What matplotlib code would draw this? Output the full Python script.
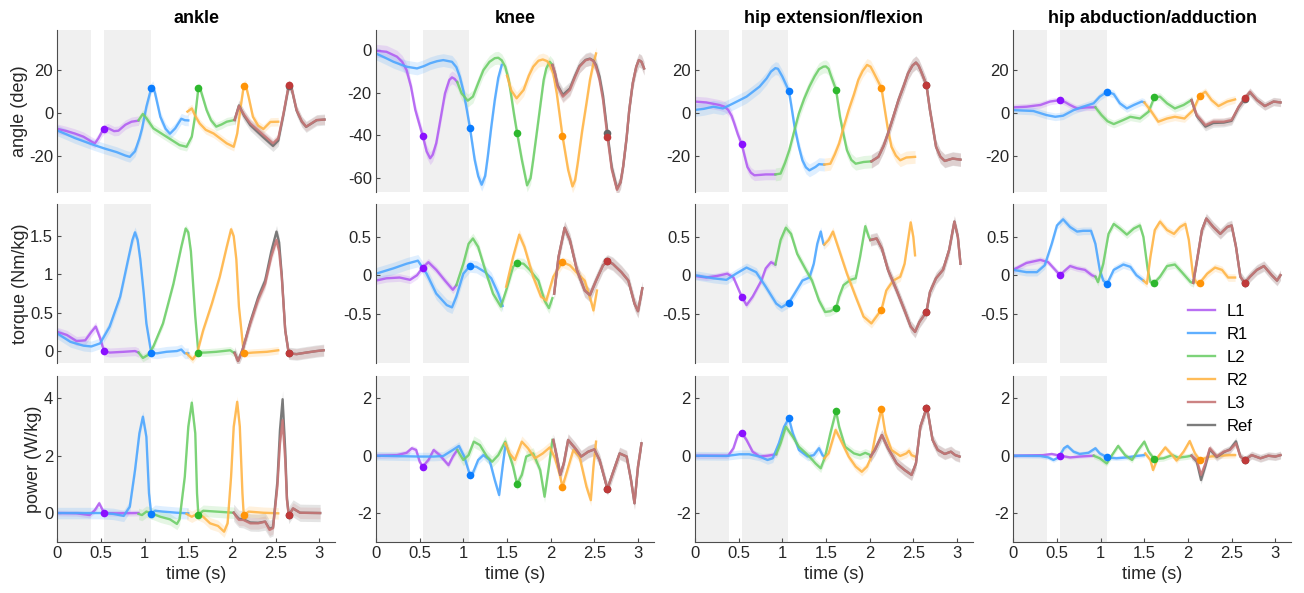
import numpy as np
import matplotlib
matplotlib.use('Agg')
import matplotlib.pyplot as plt

# ---- joint angles (deg): (time s, value) samples per stride segment
ankle_angle_L1 = [(0.0, -7.5), (0.1, -8.5), (0.2, -9.7), (0.3, -11.2), (0.38, -13.2), (0.43, -14.3), (0.47, -12.0),
                  (0.51, -9.0), (0.535, -7.8), (0.58, -7.2), (0.65, -8.6), (0.7, -8.4), (0.78, -5.6), (0.85, -4.2),
                  (0.93, -3.7)]
ankle_angle_R1 = [(0.0, -8.3), (0.1, -10.0), (0.2, -11.8), (0.3, -13.3), (0.43, -15.2), (0.54, -16.7), (0.68, -18.4),
                  (0.78, -20.0), (0.83, -20.6), (0.89, -18.0), (0.94, -12.0), (0.97, -7.5), (1.02, 2.8),
                  (1.075, 11.4), (1.095, 12.4), (1.12, 9.0), (1.18, -1.9), (1.24, -7.5), (1.29, -9.8), (1.35, -7.3),
                  (1.42, -2.8), (1.46, -3.5), (1.5, -3.6)]
ankle_angle_L2 = [(0.93, -3.5), (0.98, -0.6), (1.02, -2.5), (1.1, -7.3), (1.25, -11.2), (1.4, -15.1), (1.48, -15.9),
                  (1.54, -11.2), (1.58, -1.0), (1.6, 6.0), (1.615, 11.4), (1.63, 12.0), (1.66, 8.0), (1.71, 1.2),
                  (1.76, -3.5), (1.82, -6.5), (1.88, -5.5), (1.94, -4.2), (2.03, -3.4)]
ankle_angle_R2 = [(1.49, 0.5), (1.54, 2.0), (1.58, -1.5), (1.63, -5.0), (1.7, -8.0), (1.79, -9.7), (1.94, -14.3),
                  (2.02, -15.9), (2.06, -9.7), (2.1, 2.8), (2.135, 12.5), (2.155, 13.4), (2.19, 7.5), (2.24, -1.9),
                  (2.3, -6.0), (2.36, -7.6), (2.44, -4.3), (2.53, -4.2)]
ankle_angle_L3 = [(2.03, -3.4), (2.08, 3.1), (2.14, -1.0), (2.21, -5.0), (2.36, -10.4), (2.47, -14.3), (2.53, -12.0),
                  (2.59, -0.3), (2.65, 12.9), (2.68, 12.0), (2.74, 1.2), (2.8, -4.0), (2.85, -6.5), (2.97, -3.4),
                  (3.06, -3.2)]
ankle_angle_Ref = [(2.03, -3.4), (2.08, 3.4), (2.14, -1.5), (2.21, -5.8), (2.36, -11.5), (2.47, -15.5), (2.53, -13.0),
                   (2.59, -0.8), (2.65, 12.5), (2.68, 11.8), (2.74, 1.0), (2.8, -4.2), (2.85, -6.6), (2.97, -3.5),
                   (3.06, -3.2)]

knee_angle_L1 = [(0.0, -0.3), (0.12, -0.8), (0.24, -3.1), (0.3, -5.5), (0.35, -9.4), (0.4, -17.0), (0.45, -28.0),
                 (0.535, -40.2), (0.58, -47.5), (0.62, -50.7), (0.65, -49.0), (0.69, -43.6), (0.74, -32.0),
                 (0.79, -20.3), (0.84, -14.0), (0.87, -12.8), (0.9, -13.5), (0.93, -15.0)]
knee_angle_R1 = [(0.0, -1.6), (0.1, -3.5), (0.2, -5.5), (0.35, -7.8), (0.47, -8.6), (0.55, -7.5), (0.62, -6.2),
                 (0.7, -5.2), (0.77, -4.7), (0.87, -5.5), (0.92, -8.0), (0.96, -12.5), (1.0, -19.0), (1.04, -28.0),
                 (1.075, -36.3), (1.13, -51.4), (1.17, -59.0), (1.21, -63.1), (1.25, -59.0), (1.28, -49.9),
                 (1.32, -36.0), (1.36, -23.4), (1.4, -13.0), (1.44, -7.0)]
knee_angle_L2 = [(0.93, -15.0), (0.98, -20.3), (1.05, -23.7), (1.11, -21.8), (1.17, -15.5), (1.23, -9.4),
                 (1.3, -5.5), (1.36, -3.8), (1.4, -3.6), (1.44, -4.8), (1.48, -7.8), (1.52, -14.0), (1.55, -21.8),
                 (1.58, -30.0), (1.615, -38.7), (1.67, -51.4), (1.73, -63.4), (1.77, -60.0), (1.8, -51.4),
                 (1.84, -39.0), (1.88, -26.5), (1.92, -14.0), (1.95, -8.6), (1.99, -5.5), (2.02, -7.0)]
knee_angle_R2 = [(1.5, -12.0), (1.55, -19.0), (1.61, -22.6), (1.69, -18.7), (1.75, -12.0), (1.8, -7.8), (1.86, -5.0),
                 (1.91, -4.4), (1.96, -5.2), (1.99, -7.0), (2.03, -11.0), (2.07, -20.3), (2.135, -40.2),
                 (2.2, -56.1), (2.25, -63.9), (2.28, -61.0), (2.31, -53.0), (2.36, -38.0), (2.41, -24.9),
                 (2.45, -14.0), (2.49, -6.2), (2.52, -1.6)]
knee_angle_L3 = [(2.02, -7.0), (2.05, -11.0), (2.08, -17.1), (2.14, -21.8), (2.22, -18.7), (2.28, -12.5),
                 (2.33, -7.8), (2.4, -4.8), (2.45, -4.2), (2.49, -5.2), (2.52, -7.8), (2.56, -14.0), (2.6, -23.4),
                 (2.65, -40.5), (2.7, -56.0), (2.76, -65.5), (2.8, -62.0), (2.83, -54.6), (2.87, -41.0),
                 (2.9, -28.0), (2.94, -15.5), (2.98, -7.8), (3.01, -4.7), (3.04, -5.5), (3.07, -8.6)]
knee_angle_Ref = [(2.02, -7.0), (2.05, -11.0), (2.08, -16.5), (2.14, -21.0), (2.22, -18.0), (2.28, -12.0),
                  (2.33, -7.5), (2.4, -4.6), (2.45, -4.0), (2.49, -5.0), (2.52, -7.0), (2.56, -12.5), (2.6, -21.5),
                  (2.65, -38.7), (2.7, -55.0), (2.76, -65.0), (2.8, -62.0), (2.83, -54.6), (2.87, -41.0),
                  (2.9, -28.0), (2.94, -15.5), (2.98, -7.8), (3.01, -4.7), (3.04, -5.5), (3.07, -8.6)]

hip_ext_angle_L1 = [(0.0, 5.2), (0.13, 4.8), (0.28, 3.6), (0.34, 2.8), (0.38, 1.3), (0.42, -1.5), (0.45, -5.0),
                    (0.49, -10.0), (0.535, -14.7), (0.57, -20.5), (0.6, -25.3), (0.64, -28.0), (0.68, -29.2),
                    (0.75, -29.0), (0.81, -28.8), (0.92, -28.8)]
hip_ext_angle_R1 = [(0.0, 1.3), (0.1, 1.8), (0.21, 2.8), (0.32, 2.0), (0.44, 4.4), (0.59, 7.5), (0.74, 12.2),
                    (0.82, 16.0), (0.87, 19.2), (0.92, 20.8), (0.95, 20.5), (1.0, 16.9), (1.075, 10.2), (1.1, 4.0),
                    (1.14, -6.6), (1.19, -16.0), (1.23, -22.2), (1.27, -25.5), (1.31, -26.9), (1.38, -25.3),
                    (1.42, -24.0), (1.48, -24.2)]
hip_ext_angle_L2 = [(0.92, -28.8), (0.98, -28.4), (1.03, -23.5), (1.08, -17.5), (1.14, -8.0), (1.19, -0.3),
                    (1.25, 6.5), (1.31, 12.2), (1.37, 17.0), (1.42, 20.3), (1.47, 21.5), (1.5, 21.6), (1.53, 20.5),
                    (1.56, 16.9), (1.615, 10.8), (1.66, -1.9), (1.7, -10.0), (1.74, -17.5), (1.79, -22.0),
                    (1.84, -23.8), (1.93, -23.0), (2.02, -22.7)]
hip_ext_angle_R2 = [(1.48, -24.2), (1.55, -23.8), (1.6, -19.5), (1.65, -14.4), (1.7, -7.0), (1.76, 1.3), (1.82, 8.5),
                    (1.87, 15.3), (1.92, 19.5), (1.97, 22.3), (2.01, 21.5), (2.04, 19.2), (2.08, 16.0),
                    (2.135, 11.5), (2.18, -0.3), (2.21, -8.0), (2.25, -15.9), (2.3, -20.0), (2.35, -22.2),
                    (2.42, -20.9), (2.52, -20.6)]
hip_ext_angle_L3 = [(2.02, -22.7), (2.1, -20.6), (2.16, -15.5), (2.21, -9.7), (2.27, -2.0), (2.33, 5.9),
                    (2.39, 12.5), (2.44, 18.4), (2.49, 22.0), (2.53, 23.4), (2.56, 22.0), (2.59, 19.2),
                    (2.65, 13.0), (2.69, 1.3), (2.72, -6.0), (2.76, -15.9), (2.81, -20.5), (2.86, -22.5),
                    (2.95, -21.4), (3.04, -21.9)]

hip_abd_angle_L1 = [(0.0, 2.5), (0.15, 2.8), (0.31, 3.6), (0.42, 5.2), (0.535, 5.9), (0.6, 4.8), (0.65, 3.6),
                    (0.73, 2.0), (0.84, 2.5), (0.94, 2.5)]
hip_abd_angle_R1 = [(0.0, 1.2), (0.23, 0.8), (0.38, -1.1), (0.48, -1.9), (0.57, -1.4), (0.69, 1.2), (0.8, 2.8),
                    (0.92, 4.4), (0.99, 7.5), (1.075, 9.8), (1.15, 8.7), (1.22, 4.4), (1.3, 2.0), (1.38, 3.6),
                    (1.47, 5.2), (1.5, 4.8)]
hip_abd_angle_L2 = [(0.94, 2.5), (1.01, -1.1), (1.08, -4.0), (1.15, -5.3), (1.26, -3.4), (1.34, -1.9),
                    (1.45, -2.7), (1.55, 0.5), (1.615, 7.2), (1.68, 7.5), (1.76, 4.4), (1.85, 2.0), (1.95, 3.6),
                    (2.04, 5.9)]
hip_abd_angle_R2 = [(1.5, 4.8), (1.57, 1.2), (1.66, -4.2), (1.76, -2.7), (1.85, -1.9), (1.96, -2.7), (2.06, 1.2),
                    (2.135, 8.0), (2.2, 9.8), (2.27, 5.9), (2.35, 3.1), (2.45, 5.2), (2.54, 6.2)]
hip_abd_angle_L3 = [(2.04, 5.9), (2.1, -1.1), (2.2, -5.8), (2.29, -4.2), (2.41, -4.2), (2.5, -3.4), (2.58, 2.8),
                    (2.65, 6.7), (2.71, 9.8), (2.79, 5.9), (2.88, 3.1), (2.98, 5.2), (3.06, 4.8)]
hip_abd_angle_Ref = [(2.04, 5.9), (2.1, -1.5), (2.2, -6.5), (2.29, -4.8), (2.41, -4.6), (2.5, -3.8), (2.58, 2.5),
                     (2.65, 6.5), (2.71, 9.5), (2.79, 5.9), (2.88, 3.1), (2.98, 5.2), (3.06, 4.8)]

# ---- joint torques (Nm/kg)
ankle_torque_L1 = [(0.0, 0.25), (0.11, 0.21), (0.22, 0.13), (0.32, 0.14), (0.39, 0.25), (0.44, 0.32), (0.49, 0.17),
                   (0.535, 0.0), (0.6, -0.02), (0.76, -0.01), (0.89, 0.0), (0.93, -0.02)]
ankle_torque_R1 = [(0.0, 0.23), (0.15, 0.12), (0.3, 0.07), (0.39, 0.06), (0.49, 0.1), (0.6, 0.32), (0.72, 0.71),
                   (0.81, 1.19), (0.86, 1.45), (0.89, 1.55), (0.92, 1.45), (0.95, 1.2), (0.99, 0.75), (1.02, 0.36),
                   (1.075, -0.02), (1.14, -0.03), (1.25, -0.01), (1.37, 0.0), (1.42, 0.02), (1.46, -0.03),
                   (1.5, -0.03)]
ankle_torque_L2 = [(0.93, -0.02), (0.98, -0.09), (1.04, -0.05), (1.1, 0.06), (1.21, 0.36), (1.33, 0.88),
                   (1.42, 1.36), (1.47, 1.6), (1.5, 1.55), (1.53, 1.3), (1.58, 0.45), (1.615, -0.02), (1.69, -0.02),
                   (1.82, -0.01), (1.98, 0.01), (2.03, -0.03)]
ankle_torque_R2 = [(1.48, -0.03), (1.55, -0.11), (1.6, -0.03), (1.67, 0.27), (1.77, 0.62), (1.86, 0.97),
                   (1.94, 1.36), (1.99, 1.59), (2.02, 1.5), (2.05, 1.2), (2.08, 0.58), (2.135, -0.03),
                   (2.24, -0.02), (2.4, -0.01), (2.53, 0.01)]
ankle_torque_L3 = [(2.03, -0.03), (2.07, -0.13), (2.12, 0.01), (2.21, 0.36), (2.3, 0.67), (2.38, 0.88),
                   (2.45, 1.23), (2.51, 1.45), (2.54, 1.3), (2.57, 0.97), (2.61, 0.27), (2.65, -0.03),
                   (2.74, -0.04), (2.85, -0.02), (2.97, 0.0), (3.05, 0.01)]
ankle_torque_Ref = [(2.03, -0.02), (2.07, -0.13), (2.12, 0.01), (2.21, 0.38), (2.3, 0.7), (2.38, 0.92),
                    (2.45, 1.3), (2.51, 1.56), (2.54, 1.42), (2.57, 1.0), (2.61, 0.27), (2.65, -0.03),
                    (2.74, -0.04), (2.85, -0.02), (2.97, 0.0), (3.05, 0.01)]

knee_torque_L1 = [(0.0, -0.07), (0.12, -0.04), (0.27, -0.03), (0.39, -0.06), (0.47, 0.0), (0.535, 0.1),
                  (0.6, 0.17), (0.69, 0.07), (0.79, -0.07), (0.88, -0.19), (0.92, -0.13)]
knee_torque_R1 = [(0.0, 0.02), (0.2, 0.09), (0.35, 0.15), (0.48, 0.19), (0.58, 0.02), (0.69, -0.24), (0.81, -0.39),
                  (0.87, -0.42), (0.92, -0.28), (1.0, 0.02), (1.075, 0.12), (1.15, 0.11), (1.25, 0.04),
                  (1.32, -0.04), (1.4, -0.24), (1.45, -0.4)]
knee_torque_L2 = [(0.92, -0.13), (1.0, 0.15), (1.06, 0.41), (1.11, 0.48), (1.17, 0.37), (1.25, 0.07), (1.34, -0.24),
                  (1.43, -0.41), (1.49, -0.2), (1.57, 0.11), (1.615, 0.16), (1.69, 0.15), (1.76, 0.07),
                  (1.86, -0.07), (1.93, -0.33), (1.98, -0.43), (2.02, -0.3)]
knee_torque_R2 = [(1.49, -0.15), (1.57, 0.24), (1.64, 0.53), (1.7, 0.37), (1.8, -0.02), (1.89, -0.28),
                  (1.95, -0.33), (2.03, -0.02), (2.135, 0.17), (2.22, 0.13), (2.31, 0.02), (2.39, -0.07),
                  (2.47, -0.37), (2.49, -0.46), (2.53, -0.2)]
knee_torque_L3 = [(2.04, -0.24), (2.09, 0.24), (2.16, 0.62), (2.22, 0.46), (2.3, 0.07), (2.39, -0.2),
                  (2.45, -0.26), (2.52, -0.07), (2.6, 0.13), (2.65, 0.18), (2.71, 0.15), (2.81, 0.04),
                  (2.89, -0.07), (2.96, -0.37), (3.0, -0.47), (3.05, -0.17)]

hip_ext_torque_L1 = [(0.0, -0.01), (0.13, -0.03), (0.25, -0.01), (0.37, 0.02), (0.44, -0.03), (0.535, -0.28),
                     (0.59, -0.39), (0.66, -0.28), (0.76, -0.07), (0.81, 0.09), (0.87, 0.17), (0.92, 0.14)]
hip_ext_torque_R1 = [(0.0, 0.0), (0.21, -0.04), (0.36, -0.06), (0.47, 0.02), (0.59, 0.1), (0.7, 0.04),
                     (0.81, -0.15), (0.93, -0.37), (0.99, -0.42), (1.075, -0.36), (1.14, -0.24), (1.23, -0.07),
                     (1.31, -0.03), (1.36, 0.15), (1.4, 0.41), (1.44, 0.57), (1.47, 0.41), (1.48, 0.4)]
hip_ext_torque_L2 = [(0.92, 0.14), (0.98, 0.46), (1.04, 0.62), (1.1, 0.54), (1.17, 0.28), (1.27, 0.07),
                     (1.34, -0.07), (1.42, -0.33), (1.49, -0.48), (1.55, -0.47), (1.615, -0.43), (1.65, -0.28),
                     (1.7, -0.13), (1.78, -0.06), (1.84, -0.04), (1.89, 0.24), (1.95, 0.64), (1.99, 0.5),
                     (2.01, 0.46)]
hip_ext_torque_R2 = [(1.48, 0.4), (1.53, 0.46), (1.58, 0.57), (1.65, 0.33), (1.74, 0.02), (1.84, -0.28),
                     (1.93, -0.54), (2.02, -0.63), (2.135, -0.45), (2.19, -0.2), (2.27, -0.07), (2.35, -0.02),
                     (2.4, 0.15), (2.44, 0.46), (2.47, 0.69), (2.5, 0.5), (2.52, 0.26)]
hip_ext_torque_L3 = [(2.01, 0.46), (2.08, 0.48), (2.14, 0.35), (2.21, 0.07), (2.31, -0.2), (2.4, -0.46),
                     (2.47, -0.67), (2.52, -0.74), (2.57, -0.61), (2.65, -0.48), (2.69, -0.22), (2.76, -0.04),
                     (2.84, 0.07), (2.91, 0.33), (2.97, 0.7), (3.01, 0.5), (3.04, 0.15)]

hip_abd_torque_L1 = [(0.0, 0.07), (0.15, 0.16), (0.31, 0.2), (0.4, 0.17), (0.48, 0.07), (0.535, 0.0), (0.59, 0.06),
                     (0.65, 0.12), (0.73, 0.09), (0.82, 0.07), (0.9, 0.0), (0.94, -0.02)]
hip_abd_torque_R1 = [(0.0, 0.07), (0.15, 0.04), (0.27, 0.04), (0.36, 0.13), (0.44, 0.41), (0.5, 0.65), (0.57, 0.73),
                     (0.65, 0.63), (0.73, 0.57), (0.8, 0.58), (0.89, 0.58), (0.94, 0.41), (0.99, 0.07),
                     (1.03, -0.07), (1.075, -0.11), (1.15, 0.07), (1.26, 0.14), (1.34, 0.11), (1.41, 0.0),
                     (1.49, -0.07)]
hip_abd_torque_L2 = [(0.94, -0.02), (0.97, -0.09), (1.03, 0.15), (1.09, 0.54), (1.15, 0.67), (1.22, 0.61),
                     (1.3, 0.53), (1.38, 0.61), (1.45, 0.65), (1.49, 0.5), (1.54, 0.07), (1.57, -0.09),
                     (1.615, -0.1), (1.68, -0.02), (1.76, 0.12), (1.85, 0.14), (1.93, 0.04), (2.03, -0.09),
                     (2.06, -0.1)]
hip_abd_torque_R2 = [(1.49, -0.07), (1.53, -0.11), (1.57, 0.24), (1.62, 0.59), (1.68, 0.7), (1.76, 0.59),
                     (1.84, 0.54), (1.91, 0.63), (1.97, 0.67), (2.01, 0.46), (2.06, -0.02), (2.1, -0.1),
                     (2.135, -0.1), (2.22, 0.02), (2.31, 0.1), (2.39, 0.07), (2.46, -0.03), (2.54, -0.03)]
hip_abd_torque_L3 = [(2.06, -0.1), (2.11, 0.24), (2.16, 0.59), (2.21, 0.74), (2.29, 0.63), (2.37, 0.54),
                     (2.45, 0.63), (2.5, 0.65), (2.55, 0.37), (2.6, -0.02), (2.65, -0.1), (2.71, -0.02),
                     (2.79, 0.07), (2.87, 0.12), (2.96, 0.0), (3.02, -0.07), (3.06, 0.0)]

# ---- joint powers (W/kg)
ankle_power_L1 = [(0.0, 0.0), (0.22, -0.01), (0.37, -0.07), (0.43, 0.1), (0.48, 0.34), (0.51, 0.16), (0.535, 0.0),
                  (0.68, -0.01), (0.93, 0.0)]
ankle_power_R1 = [(0.0, 0.0), (0.49, 0.0), (0.64, -0.03), (0.76, -0.1), (0.83, 0.22), (0.89, 1.5), (0.94, 2.78),
                  (0.98, 3.36), (1.02, 2.66), (1.05, 0.69), (1.075, -0.03), (1.12, 0.08), (1.21, 0.05),
                  (1.37, 0.01), (1.5, -0.01)]
ankle_power_L2 = [(0.93, -0.03), (0.97, -0.07), (1.02, 0.05), (1.08, -0.01), (1.18, -0.13), (1.29, -0.22),
                  (1.37, -0.38), (1.4, -0.22), (1.46, 1.27), (1.5, 3.01), (1.54, 3.85), (1.58, 2.78), (1.6, 0.69),
                  (1.615, -0.06), (1.67, 0.08), (1.82, 0.05), (2.02, 0.01)]
ankle_power_R2 = [(1.48, -0.03), (1.54, -0.13), (1.6, -0.03), (1.67, -0.13), (1.75, -0.36), (1.84, -0.45),
                  (1.91, -0.65), (1.95, -0.36), (1.99, 1.27), (2.02, 3.01), (2.06, 3.88), (2.09, 3.01),
                  (2.12, 0.69), (2.135, -0.08), (2.19, 0.05), (2.36, 0.01), (2.53, -0.01)]
ankle_power_L3 = [(2.02, 0.01), (2.05, -0.13), (2.08, -0.24), (2.13, -0.24), (2.21, -0.36), (2.3, -0.36),
                  (2.38, -0.3), (2.43, -0.59), (2.47, -0.53), (2.52, 0.92), (2.55, 2.43), (2.58, 3.24),
                  (2.61, 1.85), (2.63, 0.45), (2.65, -0.07), (2.7, 0.16), (2.78, 0.01), (3.01, 0.0)]
ankle_power_Ref = [(2.02, 0.01), (2.05, -0.1), (2.08, -0.2), (2.13, -0.22), (2.21, -0.33), (2.3, -0.34),
                   (2.38, -0.3), (2.43, -0.55), (2.47, -0.5), (2.52, 1.1), (2.55, 2.9), (2.58, 3.97),
                   (2.61, 2.2), (2.63, 0.5), (2.65, -0.07), (2.7, 0.16), (2.78, 0.01), (3.01, 0.0)]

knee_power_L1 = [(0.0, 0.0), (0.24, 0.02), (0.35, 0.1), (0.41, 0.26), (0.46, 0.2), (0.5, -0.21), (0.535, -0.38),
                 (0.6, -0.15), (0.66, 0.2), (0.73, 0.02), (0.83, -0.33), (0.88, -0.03), (0.93, 0.2)]
knee_power_R1 = [(0.0, 0.0), (0.5, -0.03), (0.66, -0.03), (0.77, -0.01), (0.88, 0.2), (0.95, 0.34), (1.01, -0.03),
                 (1.075, -0.67), (1.11, -0.6), (1.17, -0.15), (1.23, 0.02), (1.3, -0.15), (1.36, -0.85),
                 (1.41, -1.37), (1.45, -0.38), (1.48, 0.31)]
knee_power_L2 = [(0.93, 0.2), (1.0, -0.15), (1.06, 0.02), (1.12, 0.49), (1.19, 0.37), (1.27, -0.03), (1.33, -0.21),
                 (1.4, 0.02), (1.48, 0.49), (1.51, 0.2), (1.57, -0.38), (1.615, -0.99), (1.67, -0.67),
                 (1.72, -0.03), (1.8, 0.08), (1.88, -0.5), (1.93, -1.43), (1.98, -0.38), (2.02, 0.55)]
knee_power_R2 = [(1.48, 0.43), (1.53, 0.08), (1.59, -0.15), (1.67, 0.49), (1.74, 0.26), (1.82, -0.09), (1.91, 0.08),
                 (1.99, 0.29), (2.05, -0.09), (2.1, -0.62), (2.135, -1.08), (2.18, -0.62), (2.26, 0.2),
                 (2.33, -0.03), (2.41, -1.08), (2.46, -1.55), (2.49, -0.38), (2.52, 0.49)]
knee_power_L3 = [(2.03, 0.55), (2.07, -0.03), (2.11, -0.67), (2.15, -0.27), (2.2, 0.55), (2.28, 0.26),
                 (2.35, -0.03), (2.43, 0.14), (2.5, 0.22), (2.56, -0.15), (2.65, -1.16), (2.71, -0.62),
                 (2.79, 0.08), (2.87, -0.03), (2.92, -0.85), (2.96, -1.66), (3.0, -0.38), (3.04, 0.43)]

hip_ext_power_L1 = [(0.0, 0.0), (0.38, 0.0), (0.44, 0.26), (0.49, 0.72), (0.535, 0.8), (0.59, 0.55), (0.66, 0.14),
                    (0.74, -0.03), (0.83, 0.0), (0.93, 0.05)]
hip_ext_power_R1 = [(0.0, 0.0), (0.36, -0.01), (0.51, 0.05), (0.62, 0.05), (0.74, -0.03), (0.83, -0.15),
                    (0.89, -0.09), (0.96, 0.43), (1.02, 1.01), (1.075, 1.3), (1.12, 0.78), (1.19, 0.2),
                    (1.29, -0.03), (1.36, 0.02), (1.42, 0.26), (1.46, 0.02), (1.48, -0.03)]
hip_ext_power_L2 = [(0.93, 0.05), (0.98, 0.43), (1.04, 1.01), (1.12, 0.66), (1.19, 0.31), (1.31, -0.03),
                    (1.38, -0.27), (1.44, -0.44), (1.49, -0.03), (1.55, 0.78), (1.615, 1.56), (1.65, 1.01),
                    (1.72, 0.31), (1.82, 0.08), (1.89, 0.02), (1.95, 0.1), (2.01, 0.02)]
hip_ext_power_R2 = [(1.48, -0.09), (1.53, 0.08), (1.61, 0.9), (1.66, 0.6), (1.76, -0.03), (1.84, -0.38),
                    (1.91, -0.56), (1.97, -0.38), (2.02, -0.03), (2.07, 0.78), (2.135, 1.63), (2.18, 0.78),
                    (2.25, 0.2), (2.35, -0.01), (2.42, 0.08), (2.45, 0.17), (2.48, 0.02), (2.52, -0.03)]
hip_ext_power_L3 = [(2.01, -0.03), (2.06, 0.2), (2.14, 0.72), (2.21, 0.26), (2.31, -0.27), (2.4, -0.5),
                    (2.48, -0.67), (2.53, -0.27), (2.58, 1.01), (2.65, 1.65), (2.67, 1.45), (2.72, 0.55),
                    (2.78, 0.2), (2.86, 0.06), (2.93, 0.14), (2.98, 0.02), (3.03, -0.03)]

hip_abd_power_L1 = [(0.0, 0.0), (0.34, 0.02), (0.44, 0.06), (0.535, 0.0), (0.65, -0.06), (0.76, -0.03),
                    (0.92, 0.0)]
hip_abd_power_R1 = [(0.0, 0.0), (0.31, -0.01), (0.4, -0.06), (0.46, -0.15), (0.52, -0.06), (0.58, 0.26),
                    (0.62, 0.34), (0.69, 0.14), (0.76, 0.06), (0.86, 0.1), (0.94, 0.26), (0.99, 0.08),
                    (1.075, -0.06), (1.18, -0.09), (1.3, -0.06), (1.41, -0.01), (1.5, 0.02)]
hip_abd_power_L2 = [(0.92, 0.0), (0.99, -0.09), (1.07, -0.27), (1.13, 0.02), (1.2, 0.34), (1.28, 0.02),
                    (1.36, -0.15), (1.43, 0.2), (1.5, 0.49), (1.55, 0.14), (1.615, -0.12), (1.72, -0.09),
                    (1.82, 0.02), (1.89, -0.07), (1.99, -0.03), (2.04, 0.0)]
hip_abd_power_R2 = [(1.51, 0.08), (1.57, -0.15), (1.6, -0.5), (1.66, -0.03), (1.74, 0.29), (1.82, 0.02),
                    (1.87, -0.17), (1.95, 0.14), (2.02, 0.51), (2.08, 0.08), (2.135, -0.15), (2.25, -0.03),
                    (2.37, 0.0), (2.48, 0.02), (2.54, 0.02)]
hip_abd_power_L3 = [(2.04, 0.0), (2.1, -0.15), (2.15, -0.67), (2.2, -0.27), (2.25, 0.26), (2.33, -0.03),
                    (2.41, 0.14), (2.48, 0.2), (2.55, 0.43), (2.6, -0.03), (2.65, -0.15), (2.73, 0.02),
                    (2.83, -0.09), (2.92, 0.0), (3.0, -0.03), (3.06, 0.02)]
hip_abd_power_Ref = [(2.04, 0.0), (2.1, -0.2), (2.15, -0.85), (2.2, -0.35), (2.25, 0.22), (2.33, -0.05),
                     (2.41, 0.12), (2.48, 0.22), (2.55, 0.5), (2.6, -0.03), (2.65, -0.15), (2.73, 0.02),
                     (2.83, -0.09), (2.92, 0.0), (3.0, -0.03), (3.06, 0.02)]

# shaded band half-widths (one sd) per panel, order L1, R1, L2, R2, L3, Ref
ankle_angle_sd = [2.2, 2.5, 2.0, 2.0, 2.2, 2.6]
knee_angle_sd = [3.0, 3.0, 3.0, 3.0, 3.0, 3.2]
hip_ext_angle_sd = [2.5, 3.0, 3.0, 3.0, 3.0, 3.2]
hip_abd_angle_sd = [1.5, 1.8, 1.8, 1.8, 1.8, 2.0]
ankle_torque_sd = [0.06, 0.07, 0.05, 0.05, 0.07, 0.08]
knee_torque_sd = [0.05, 0.08, 0.07, 0.07, 0.08, 0.09]
hip_ext_torque_sd = [0.04, 0.06, 0.06, 0.06, 0.07, 0.08]
hip_abd_torque_sd = [0.04, 0.05, 0.05, 0.05, 0.06, 0.07]
ankle_power_sd = [0.1, 0.2, 0.2, 0.2, 0.2, 0.3]
knee_power_sd = [0.1, 0.15, 0.2, 0.2, 0.2, 0.22]
hip_ext_power_sd = [0.1, 0.15, 0.15, 0.15, 0.18, 0.2]
hip_abd_power_sd = [0.06, 0.08, 0.1, 0.1, 0.12, 0.14]

JOINTS = ['ankle', 'knee', 'hip extension/flexion', 'hip abduction/adduction']
QUANTITIES = ['angle (deg)', 'torque (Nm/kg)', 'power (W/kg)']
SERIES = ['L1', 'R1', 'L2', 'R2', 'L3', 'Ref']
EVENT_TIMES = {'L1': 0.535, 'R1': 1.075, 'L2': 1.615, 'R2': 2.135, 'L3': 2.65, 'Ref': 2.65}
SHADED = [(0.0, 0.39), (0.54, 1.07)]

LINE_COLORS = {'L1': '#b25ff2', 'R1': '#4ea7ff', 'L2': '#6fcf6a', 'R2': '#ffb547',
               'L3': '#c77676', 'Ref': '#6e6e6e'}
DOT_COLORS = {'L1': '#8a10ff', 'R1': '#0a7cff', 'L2': '#2eb82e', 'R2': '#ff9408',
              'L3': '#c03a3a', 'Ref': '#666666'}

PANELS = [
    [dict(L1=ankle_angle_L1, R1=ankle_angle_R1, L2=ankle_angle_L2, R2=ankle_angle_R2, L3=ankle_angle_L3,
          Ref=ankle_angle_Ref),
     dict(L1=knee_angle_L1, R1=knee_angle_R1, L2=knee_angle_L2, R2=knee_angle_R2, L3=knee_angle_L3,
          Ref=knee_angle_Ref),
     dict(L1=hip_ext_angle_L1, R1=hip_ext_angle_R1, L2=hip_ext_angle_L2, R2=hip_ext_angle_R2, L3=hip_ext_angle_L3,
          Ref=hip_ext_angle_L3),
     dict(L1=hip_abd_angle_L1, R1=hip_abd_angle_R1, L2=hip_abd_angle_L2, R2=hip_abd_angle_R2, L3=hip_abd_angle_L3,
          Ref=hip_abd_angle_Ref)],
    [dict(L1=ankle_torque_L1, R1=ankle_torque_R1, L2=ankle_torque_L2, R2=ankle_torque_R2, L3=ankle_torque_L3,
          Ref=ankle_torque_Ref),
     dict(L1=knee_torque_L1, R1=knee_torque_R1, L2=knee_torque_L2, R2=knee_torque_R2, L3=knee_torque_L3,
          Ref=knee_torque_L3),
     dict(L1=hip_ext_torque_L1, R1=hip_ext_torque_R1, L2=hip_ext_torque_L2, R2=hip_ext_torque_R2,
          L3=hip_ext_torque_L3, Ref=hip_ext_torque_L3),
     dict(L1=hip_abd_torque_L1, R1=hip_abd_torque_R1, L2=hip_abd_torque_L2, R2=hip_abd_torque_R2,
          L3=hip_abd_torque_L3, Ref=hip_abd_torque_L3)],
    [dict(L1=ankle_power_L1, R1=ankle_power_R1, L2=ankle_power_L2, R2=ankle_power_R2, L3=ankle_power_L3,
          Ref=ankle_power_Ref),
     dict(L1=knee_power_L1, R1=knee_power_R1, L2=knee_power_L2, R2=knee_power_R2, L3=knee_power_L3,
          Ref=knee_power_L3),
     dict(L1=hip_ext_power_L1, R1=hip_ext_power_R1, L2=hip_ext_power_L2, R2=hip_ext_power_R2, L3=hip_ext_power_L3,
          Ref=hip_ext_power_L3),
     dict(L1=hip_abd_power_L1, R1=hip_abd_power_R1, L2=hip_abd_power_L2, R2=hip_abd_power_R2, L3=hip_abd_power_L3,
          Ref=hip_abd_power_Ref)],
]
BAND_SD = [
    [ankle_angle_sd, knee_angle_sd, hip_ext_angle_sd, hip_abd_angle_sd],
    [ankle_torque_sd, knee_torque_sd, hip_ext_torque_sd, hip_abd_torque_sd],
    [ankle_power_sd, knee_power_sd, hip_ext_power_sd, hip_abd_power_sd],
]
YLIMS = [
    [(-37, 38.6), (-66.5, 9.4), (-37, 38.6), (-37, 38.6)],
    [(-0.16, 1.92), (-1.15, 0.93), (-1.15, 0.93), (-1.15, 0.93)],
    [(-1.0, 4.78), (-3.0, 2.78), (-3.0, 2.78), (-3.0, 2.78)],
]
YTICKS = [
    [[-20, 0, 20], [-60, -40, -20, 0], [-20, 0, 20], [-20, 0, 20]],
    [[0, 0.5, 1, 1.5], [-0.5, 0, 0.5], [-0.5, 0, 0.5], [-0.5, 0, 0.5]],
    [[0, 2, 4], [-2, 0, 2], [-2, 0, 2], [-2, 0, 2]],
]

plt.rcParams['font.family'] = ['Liberation Sans', 'DejaVu Sans']
plt.rcParams['axes.unicode_minus'] = False

W, H = 1304, 593
fig = plt.figure(figsize=(W / 100, H / 100), dpi=100)

col_left = [57.3, 376, 695, 1013.3]
ax_width = 277.7
row_span = [(30, 192), (204, 363.3), (376, 541.7)]

legend_handles = {}
for r in range(3):
    for c in range(4):
        top, bottom = row_span[r]
        ax = fig.add_axes([col_left[c] / W, 1 - bottom / H, ax_width / W, (bottom - top) / H])
        for x0, x1 in SHADED:
            ax.axvspan(x0, x1, color='#f0f0f0', lw=0, zorder=0)

        panel = PANELS[r][c]
        sds = BAND_SD[r][c]
        draw_order = ['L1', 'R1', 'L2', 'R2', 'Ref', 'L3']
        for name in draw_order:
            pts = np.array(panel[name])
            sd = sds[SERIES.index(name)]
            ax.fill_between(pts[:, 0], pts[:, 1] - sd, pts[:, 1] + sd, color=LINE_COLORS[name],
                            alpha=0.18, lw=0, zorder=1)
        for name in draw_order:
            pts = np.array(panel[name])
            line, = ax.plot(pts[:, 0], pts[:, 1], color=LINE_COLORS[name], lw=1.7, alpha=0.9,
                            solid_joinstyle='round', zorder=2)
            legend_handles.setdefault(name, line)
        for name in draw_order:
            pts = np.array(panel[name])
            te = EVENT_TIMES[name]
            ax.plot(te, np.interp(te, pts[:, 0], pts[:, 1]), 'o', ms=5.5, color=DOT_COLORS[name],
                    mec='none', zorder=3)

        ax.set_xlim(0, 3.18)
        ax.set_ylim(*YLIMS[r][c])
        ax.set_yticks(YTICKS[r][c])
        ax.set_yticklabels(['{:g}'.format(v) for v in YTICKS[r][c]])
        for side in ('top', 'right'):
            ax.spines[side].set_visible(False)
        ax.spines['left'].set_color('#4d4d4d')
        ax.spines['bottom'].set_color('#4d4d4d')
        ax.tick_params(direction='in', length=3, width=0.8, colors='#4d4d4d', labelcolor='#262626',
                       labelsize=12, pad=3)
        if r < 2:
            ax.spines['bottom'].set_visible(False)
            ax.set_xticks([])
        else:
            ax.set_xticks([0, 0.5, 1, 1.5, 2, 2.5, 3])
            ax.set_xticklabels(['0', '0.5', '1', '1.5', '2', '2.5', '3'])
            ax.set_xlabel('time (s)', fontsize=13, color='#262626', labelpad=4)
        if c == 0:
            ax.set_ylabel(QUANTITIES[r], fontsize=13, color='#262626', labelpad=1)
        if r == 0:
            ax.set_title(JOINTS[c], fontsize=13, fontweight='bold', pad=5)

fig.legend([legend_handles[n] for n in SERIES], SERIES, loc='upper left',
           bbox_to_anchor=(1173 / W, 1 - 289 / H), frameon=False, fontsize=12,
           handlelength=1.6, handletextpad=0.7, labelspacing=0.48)

fig.savefig('out.png', dpi=100)
